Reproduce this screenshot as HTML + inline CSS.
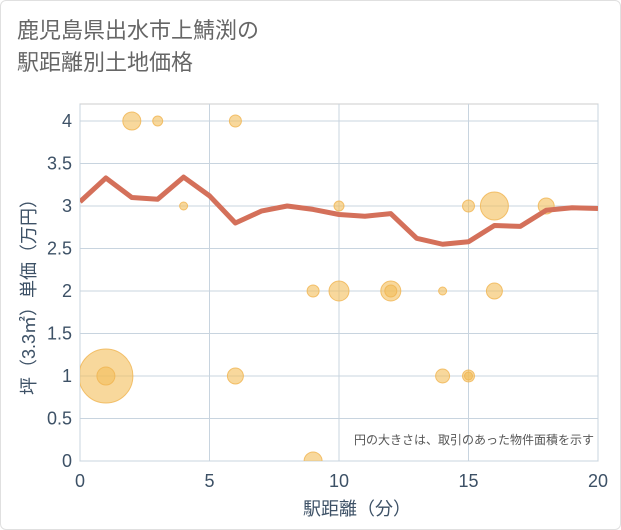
<!DOCTYPE html>
<html><head><meta charset="utf-8"><style>
body{margin:0;background:#fff;font-family:"Liberation Sans","Noto Sans CJK JP",sans-serif}
#wrap{position:relative;width:621px;height:530px;background:#fff;box-sizing:border-box;border:1px solid #e0e0e0;border-radius:6px;overflow:hidden}
#title{position:absolute;left:16px;top:14px;font-size:22px;line-height:32px;color:#666}
</style></head><body>
<div id="wrap">
<div id="title">鹿児島県出水市上鯖渕の<br>駅距離別土地価格</div>
<svg id="chart" width="621" height="530" style="position:absolute;left:0;top:0"></svg>
</div>
<script>
const xTicks=[0,5,10,15,20];
const yTicks=[0,0.5,1,1.5,2,2.5,3,3.5,4];
const yTickLabels=["0","0.5","1","1.5","2","2.5","3","3.5","4"];
const lineX=[0,1,2,3,4,5,6,7,8,9,10,11,12,13,14,15,16,17,18,19,20];
const lineY=[3.05,3.33,3.1,3.08,3.34,3.12,2.8,2.94,3.0,2.96,2.9,2.88,2.91,2.62,2.55,2.58,2.77,2.76,2.95,2.98,2.97];
const bubX=[1,1,2,3,4,6,6,9,9,10,10,12,12,14,14,15,15,15,16,16,18];
const bubY=[1,1,4,4,3,4,1,2,0,3,2,2,2,2,1,3,1,1,3,2,3];
const bubR=[27,9,9,5,4,6,8,6,9,5,10,10,6,4,7,6,6,4,14,8,8];
const NS="http://www.w3.org/2000/svg";
const svg=document.getElementById('chart');
const L=79,R=597,T=103,B=460;
const sx=v=>L+(v-0)/20*(R-L);
const sy=v=>B-v/4*(B-120);
const TC='#3d5166';
function mk(tag,attrs,parent){const e=document.createElementNS(NS,tag);for(const k in attrs)e.setAttribute(k,attrs[k]);(parent||svg).appendChild(e);return e;}
const defs=mk('defs',{});
const cp=mk('clipPath',{id:'pc'},defs);
mk('rect',{x:L,y:T,width:R-L,height:B-T},cp);
const bg=mk('rect',{x:L,y:T,width:R-L,height:B-T,fill:'#fff',stroke:'#ccc'});


xTicks.forEach(t=>{
 const g=mk('line',{x1:sx(t),x2:sx(t),y1:T,y2:B,stroke:'#c8d4df'});
 
 
 const tx=mk('text',{x:sx(t),y:B+26,'text-anchor':'middle','font-size':18,fill:TC});
 tx.textContent=t;
 
 
});
yTicks.forEach((t,i)=>{
 const g=mk('line',{x1:L,x2:R,y1:sy(t),y2:sy(t),stroke:'#c8d4df'});
 
 
 const tx=mk('text',{x:L-8,y:sy(t)+6,'text-anchor':'end','font-size':18,fill:TC});
 tx.textContent=yTickLabels[i];
 
 
});
const gp=mk('g',{'clip-path':'url(#pc)'});


bubX.forEach((x,i)=>{
 const c=mk('circle',{cx:sx(x),cy:sy(bubY[i]),r:bubR[i],fill:'rgba(243,190,90,0.6)',stroke:'rgba(240,180,80,0.8)','stroke-width':1},gp);
 
 
});
const p=mk('polyline',{points:lineX.map((x,i)=>sx(x)+','+sy(lineY[i])).join(' '),fill:'none',stroke:'#d4705a','stroke-width':5,'stroke-linejoin':'round'},gp);


const n=mk('text',{x:593,y:443,'text-anchor':'end','font-size':12,fill:'#555'});
n.textContent='円の大きさは、取引のあった物件面積を示す';


const xt=mk('text',{x:356,y:514,'text-anchor':'middle','font-size':18,fill:TC});
xt.textContent='駅距離（分）';


const yt=mk('text',{x:0,y:0,'text-anchor':'middle','font-size':18,fill:TC,transform:'translate(34,'+((T+B)/2+10)+') rotate(-90)'});
yt.textContent='坪（3.3㎡）単価（万円）';


</script>
</body></html>
